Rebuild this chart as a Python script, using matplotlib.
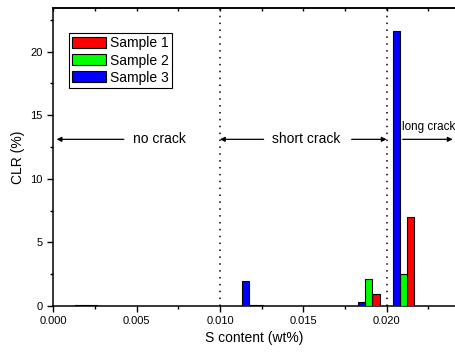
import matplotlib
matplotlib.use("Agg")
import matplotlib.pyplot as plt
from matplotlib.ticker import MultipleLocator

plt.rcParams["font.family"] = ["Liberation Sans", "DejaVu Sans"]

# bar positions (S content, wt%) and CLR values (%)
x_s3 = [0.00155, 0.01153, 0.0185, 0.02057]
x_s2 = [0.00198, 0.01196, 0.01893, 0.021]
x_s1 = [0.00241, 0.01239, 0.01936, 0.02143]
clr_s3 = [0.1, 2.0, 0.3, 21.6]
clr_s2 = [0.1, 0.1, 2.15, 2.5]
clr_s1 = [0.1, 0.1, 0.95, 7.0]
bar_w = 0.00043

fig = plt.figure(figsize=(4.55, 3.54), dpi=100)
ax = fig.add_axes([0.117, 0.1356, 0.883, 0.841])

ax.bar(x_s1, clr_s1, bar_w, color="#ff0000", edgecolor="black", lw=0.8, label="Sample 1", zorder=3)
ax.bar(x_s2, clr_s2, bar_w, color="#00ff00", edgecolor="black", lw=0.8, label="Sample 2", zorder=3)
ax.bar(x_s3, clr_s3, bar_w, color="#0000ff", edgecolor="black", lw=0.8, label="Sample 3", zorder=3)

for xv in (0.010, 0.020):
    ax.axvline(xv, color="black", ls=(0, (1, 3.5)), lw=1.1, zorder=1)

ax.set_xlim(0, 0.0241)
ax.set_ylim(0, 23.4)
ax.xaxis.set_major_locator(MultipleLocator(0.005))
ax.xaxis.set_minor_locator(MultipleLocator(0.0025))
ax.yaxis.set_major_locator(MultipleLocator(5))
ax.yaxis.set_minor_locator(MultipleLocator(2.5))
ax.xaxis.set_major_formatter(plt.FuncFormatter(lambda v, p: f"{v:.3f}"))
ax.tick_params(which="both", direction="out", labelsize=8, width=1)
ax.tick_params(which="major", length=4)
ax.tick_params(which="minor", length=2.5)
ax.spines["right"].set_visible(False)
for s in ("left", "bottom", "top"):
    ax.spines[s].set_linewidth(1.1)

# top axis: small inward ticks, no labels
top = ax.secondary_xaxis("top")
top.xaxis.set_major_locator(MultipleLocator(0.0025))
top.tick_params(direction="in", length=2.5, width=1, labeltop=False)
top.spines["top"].set_linewidth(1.1)

ax.set_xlabel("S content (wt%)", fontsize=10, labelpad=3)
ax.set_ylabel("CLR (%)", fontsize=10, labelpad=4)

arr = dict(arrowstyle="-|>", color="black", lw=0.9, mutation_scale=7, shrinkA=0, shrinkB=0)
y_arr = 13.1
ax.annotate("", xy=(0.0002, y_arr), xytext=(0.00424, y_arr), arrowprops=arr)
ax.text(0.0064, y_arr, "no crack", fontsize=10, ha="center", va="center")
ax.annotate("", xy=(0.0100, y_arr), xytext=(0.01262, y_arr), arrowprops=arr)
ax.text(0.01515, y_arr, "short crack", fontsize=10, ha="center", va="center")
ax.annotate("", xy=(0.0200, y_arr), xytext=(0.0179, y_arr), arrowprops=arr)
ax.annotate("", xy=(0.02396, y_arr), xytext=(0.02096, y_arr), arrowprops=arr,
            annotation_clip=False)
ax.text(0.0225, 14.1, "long crack", fontsize=8.4, ha="center", va="center")

leg = ax.legend(loc="upper left", bbox_to_anchor=(0.039, 0.917), fontsize=10,
                handlelength=2.4, handleheight=0.8, labelspacing=0.22,
                borderpad=0.25, handletextpad=0.3, borderaxespad=0,
                fancybox=False, framealpha=1)
leg.get_frame().set_edgecolor("black")
leg.get_frame().set_linewidth(0.8)

fig.savefig("out.png", dpi=100)
